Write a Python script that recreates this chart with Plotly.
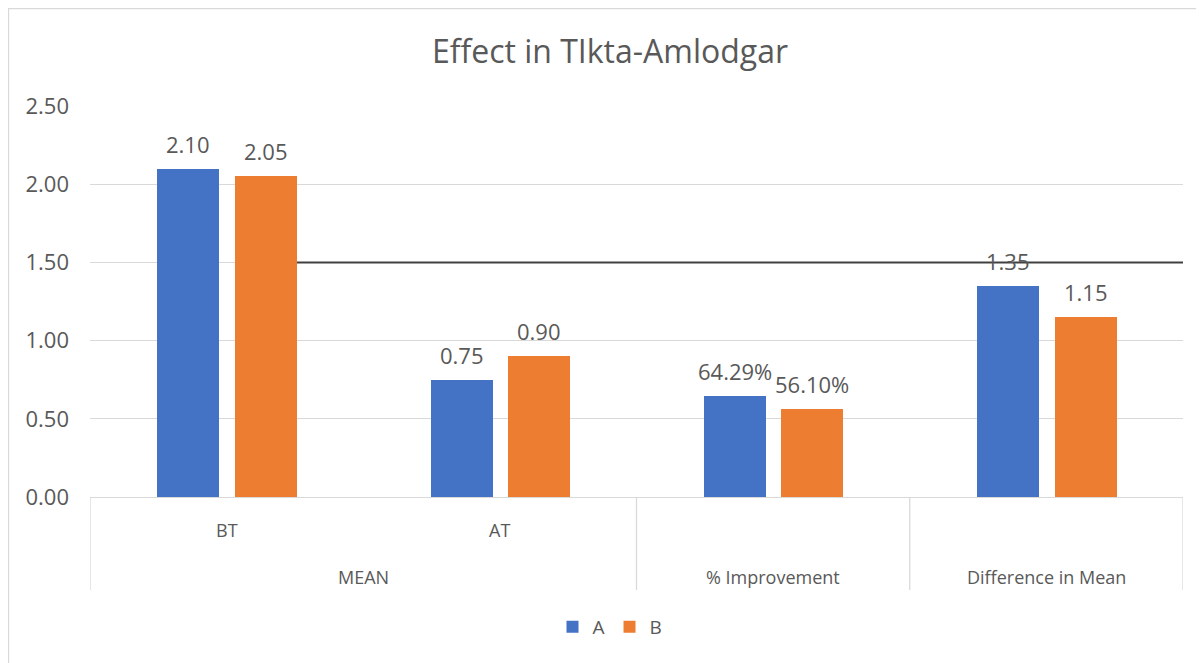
import plotly.graph_objects as go

# ---- data ----
groups = ["MEAN", "MEAN", "% Improvement", "Difference in Mean"]
subcats = ["BT", "AT", "", ""]
series_names = ["A", "B"]
values_a = [2.10, 0.75, 0.6429, 1.35]
values_b = [2.05, 0.90, 0.5610, 1.15]
is_percent = [False, False, True, False]
reference_level = 1.5
y_ticks = [0, 0.5, 1.0, 1.5, 2.0, 2.5]

# ---- layout constants (figure pixels) ----
W, H = 1204, 663
ML, MR, MT, MB = 82, 29, 98, 174
PW, PH = W - ML - MR, H - MT - MB
TXT = "#595959"
FONT = "Open Sans"
colors = ["#4472C4", "#ED7D31"]
bar_w = 0.227
offsets = [-0.2535, 0.0305]

def fmt(v, pct):
    return f"{v*100:.2f}%" if pct else f"{v:.2f}"

x = list(range(len(subcats)))
fig = go.Figure()
annotations = []
for name, vals, col, off in zip(series_names, [values_a, values_b], colors, offsets):
    fig.add_trace(go.Bar(
        x=x, y=vals, name=name, marker=dict(color=col, line=dict(width=0)),
        width=bar_w, offset=off,
    ))
    for xi, v, p in zip(x, vals, is_percent):
        annotations.append(dict(x=xi + off + bar_w / 2, y=v, xref="x", yref="y",
                                text=fmt(v, p), showarrow=False, yanchor="bottom",
                                xanchor="center",
                                yshift=8, font=dict(color=TXT, size=22, family=FONT)))

def fy(py):  # figure pixel y -> paper y
    return (H - MB - py) / PH

def fx(pxx):
    return (pxx - ML) / PW

shapes = []
# outer chart border
shapes.append(dict(type="rect", xref="paper", yref="paper",
                   x0=fx(0.5), x1=fx(W - 0.5), y0=fy(H - 0.5), y1=fy(0.5),
                   line=dict(color="#d9d9d9", width=1.3), layer="below"))
# category axis dividers
bounds = [-0.5, 1.5, 2.5, 3.5]
for b in bounds:
    shapes.append(dict(type="line", xref="x", yref="paper", x0=b, x1=b,
                       y0=0, y1=fy(582), line=dict(color="#d9d9d9", width=1.3)))
# reference line at 1.5
shapes.append(dict(type="line", xref="x", yref="y", x0=offsets[1] + bar_w, x1=3.5,
                   y0=reference_level, y1=reference_level,
                   line=dict(color="#404040", width=2), layer="above"))

for i, s in enumerate(subcats):
    if s:
        annotations.append(dict(x=i, y=fy(522), xref="x", yref="paper", text=s,
                                xanchor="center", yanchor="middle",
                                showarrow=False, font=dict(color=TXT, size=18, family=FONT)))
seen = {}
for i, g in enumerate(groups):
    seen.setdefault(g, []).append(i)
for g, idx in seen.items():
    annotations.append(dict(x=sum(idx) / len(idx), y=fy(569), xref="x", yref="paper",
                            xanchor="center", yanchor="middle",
                            text=g, showarrow=False, font=dict(color=TXT, size=18, family=FONT)))

fig.update_layout(
    width=W, height=H,
    margin=dict(l=ML, r=MR, t=MT, b=MB),
    paper_bgcolor="white", plot_bgcolor="white",
    font=dict(family=FONT, color=TXT),
    title=dict(text="Effect in TIkta-Amlodgar", x=0.5,
               xref="container", xanchor="center",
               y=1 - 44 / H, yanchor="middle", font=dict(size=32, color=TXT, family=FONT)),
    xaxis=dict(range=[-0.5, 3.5], showticklabels=False, showgrid=False, zeroline=False,
               showline=True, linecolor="#d9d9d9", linewidth=1.3, ticks=""),
    yaxis=dict(range=[0, 2.5], tickvals=y_ticks, tickformat=".2f",
               showgrid=True, gridcolor="#d9d9d9", gridwidth=1.3, zeroline=False,
               showline=False, ticklabelstandoff=20,
               tickfont=dict(size=22, color=TXT, family=FONT)),
    legend=dict(orientation="h", xref="container", yref="container", x=0.5, y=1 - 619 / H,
                xanchor="center", yanchor="middle", font=dict(size=19, color=TXT, family=FONT),
                itemwidth=30, traceorder="normal"),
    shapes=shapes, annotations=annotations,
    bargap=0, showlegend=True,
)

fig.write_html("out.html")
